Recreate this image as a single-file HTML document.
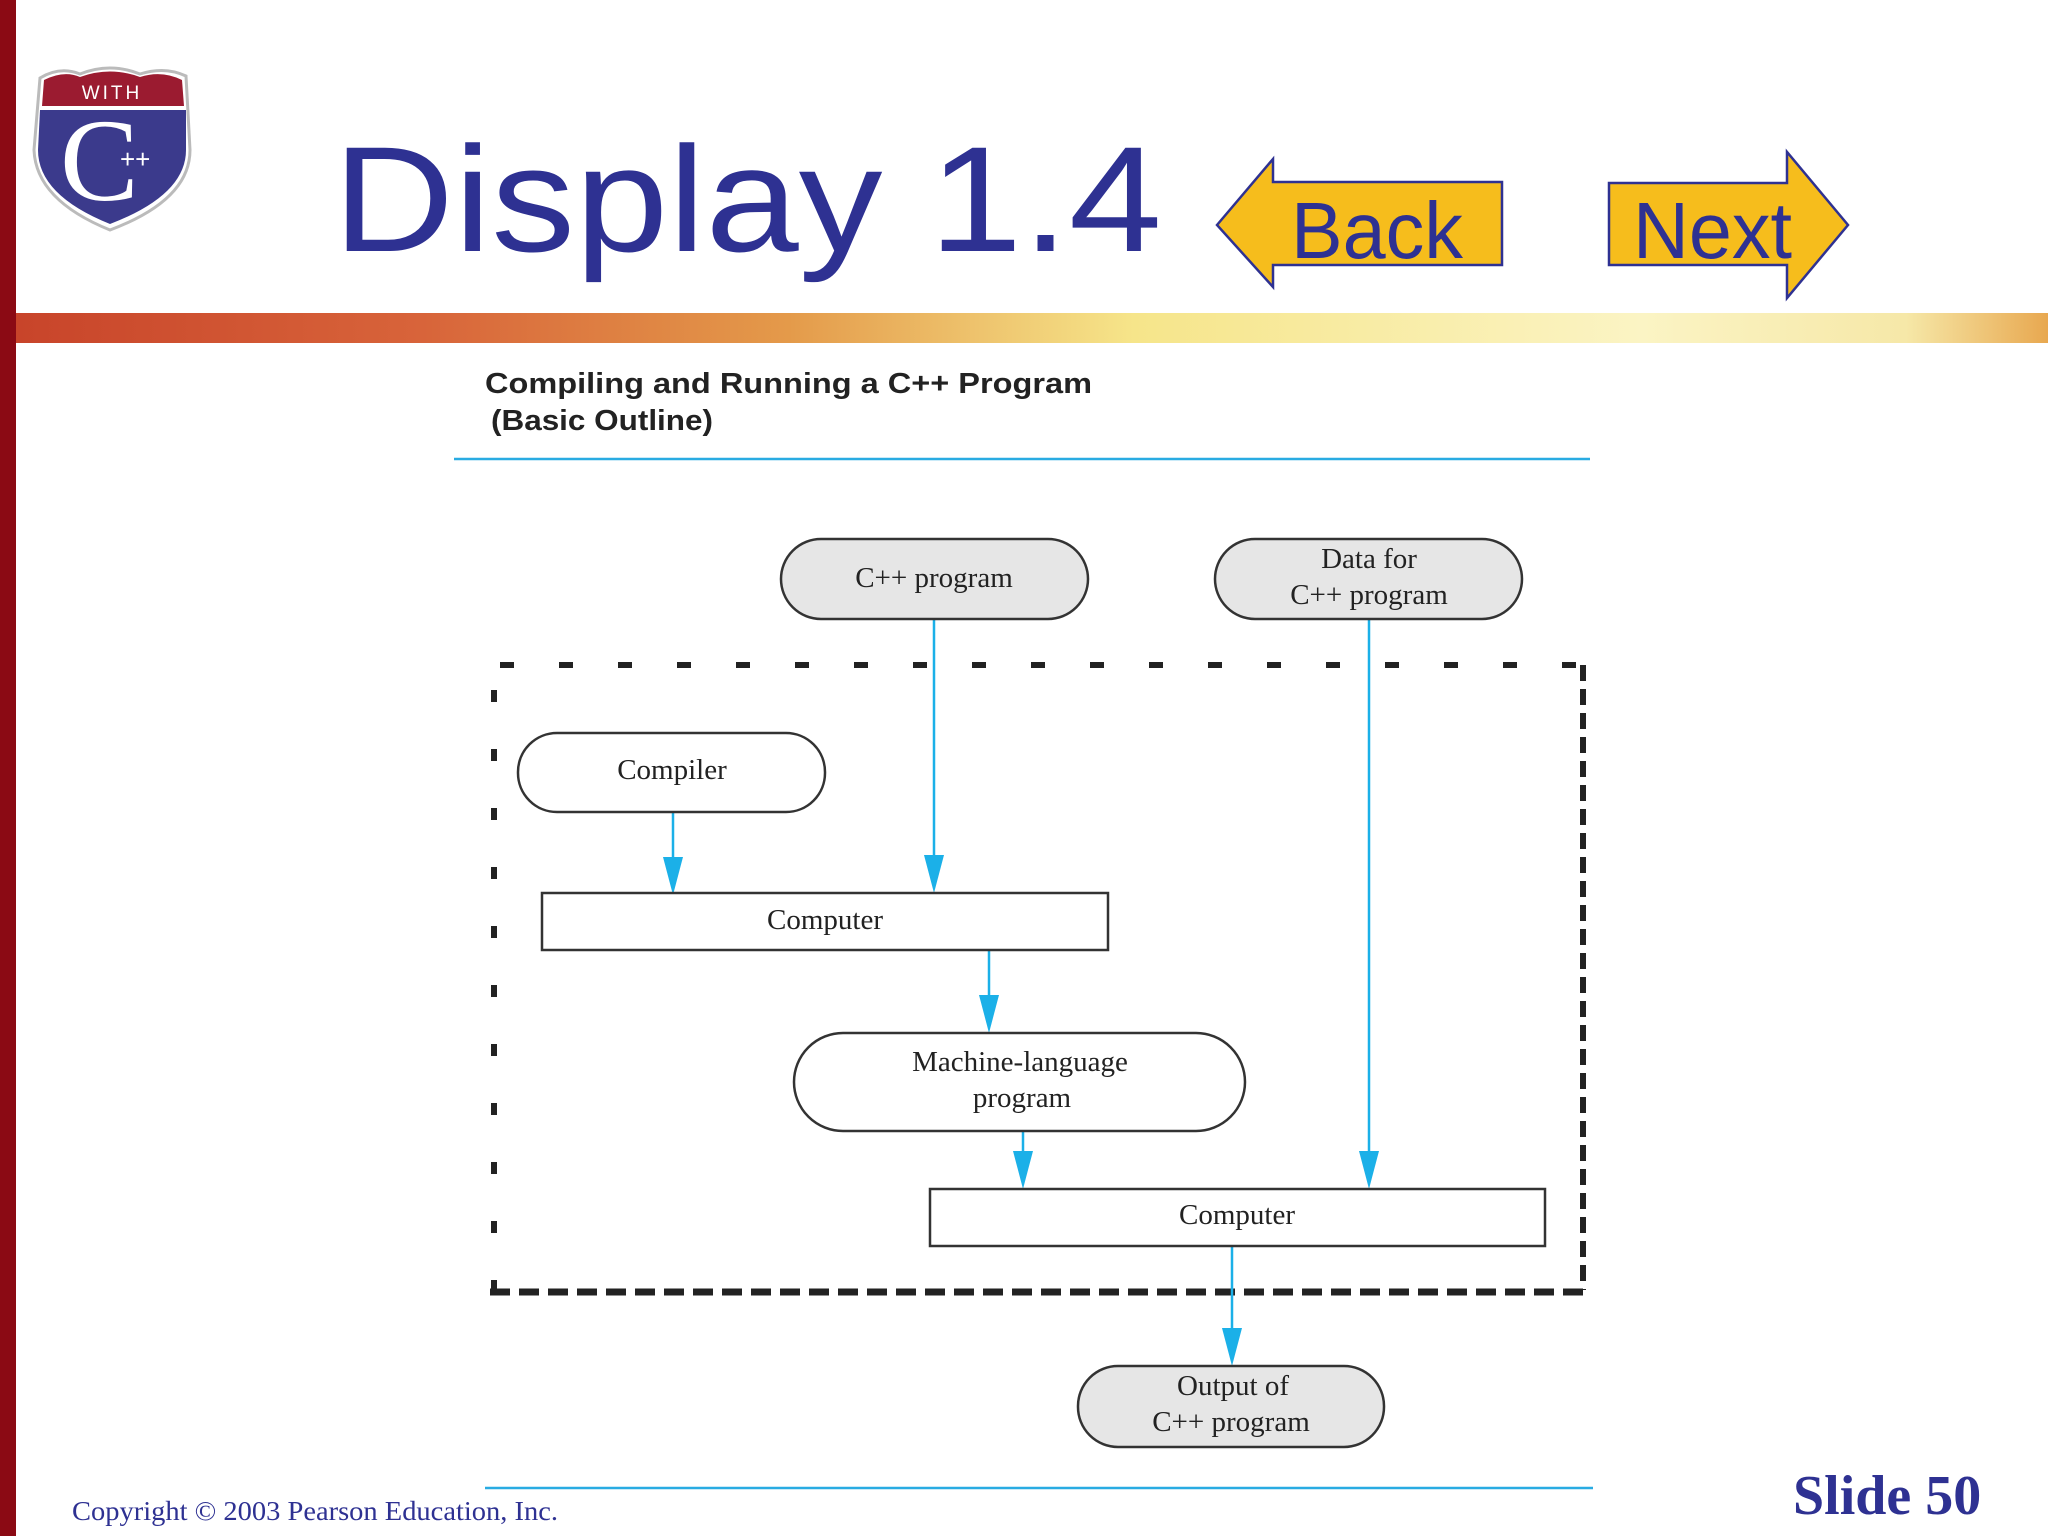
<!DOCTYPE html>
<html><head><meta charset="utf-8"><style>
html,body{margin:0;padding:0;background:#fff;}
body{width:2048px;height:1536px;position:relative;overflow:hidden;}
</style></head><body>
<svg width="2048" height="1536" viewBox="0 0 2048 1536" xmlns="http://www.w3.org/2000/svg" style="position:absolute;left:0;top:0">
<defs>
<linearGradient id="band" x1="0" x2="1" y1="0" y2="0">
<stop offset="0" stop-color="#c8442a"/>
<stop offset="0.2" stop-color="#d8643a"/>
<stop offset="0.38" stop-color="#e49a4a"/>
<stop offset="0.55" stop-color="#f6e58a"/>
<stop offset="0.8" stop-color="#fbf4c4"/>
<stop offset="0.93" stop-color="#f6e8a8"/>
<stop offset="1" stop-color="#e8a850"/>
</linearGradient>
</defs>
<rect x="0" y="0" width="16" height="1536" fill="#8b0a14"/>
<!-- logo -->
<g>
<path d="M40,78 Q60,66 80,74 Q110,62 140,74 Q165,66 186,76 L190,150 Q190,200 110,230 Q36,200 34,150 Z" fill="#fff" stroke="#bbb" stroke-width="3"/>
<path d="M44,80 Q64,70 80,77 Q110,66 140,77 Q162,70 182,80 L184,106 L42,106 Z" fill="#9b1b30"/>
<text x="112" y="99" font-family="Liberation Sans,sans-serif" font-size="19" fill="#fff" text-anchor="middle" letter-spacing="3">WITH</text>
<path d="M40,110 L186,110 L186,150 Q186,195 110,224 Q38,195 38,150 Z" fill="#3b3a8c"/>
<text x="60" y="200" font-family="Liberation Serif,serif" font-size="118" fill="#fff">C</text>
<text x="120" y="168" font-family="Liberation Sans,sans-serif" font-size="26" fill="#fff">++</text>
</g>
<text x="333" y="251" font-family="Liberation Sans,sans-serif" font-size="150" fill="#2e3192" textLength="829" lengthAdjust="spacingAndGlyphs">Display 1.4</text>
<!-- Back -->
<polygon points="1217,225 1273,159 1273,182 1502,182 1502,265 1273,265 1273,287" fill="#f6bd1c" stroke="#2e3192" stroke-width="2.5"/>
<text x="1291" y="258" font-family="Liberation Sans,sans-serif" font-size="80" fill="#2e3192" textLength="172" lengthAdjust="spacingAndGlyphs">Back</text>
<!-- Next -->
<polygon points="1609,183 1787,183 1787,152 1848,225 1787,298 1787,265 1609,265" fill="#f6bd1c" stroke="#2e3192" stroke-width="2.5"/>
<text x="1633" y="258" font-family="Liberation Sans,sans-serif" font-size="80" fill="#2e3192" textLength="159" lengthAdjust="spacingAndGlyphs">Next</text>
<rect x="16" y="313" width="2032" height="30" fill="url(#band)"/>
<text x="485" y="393" font-family="Liberation Sans,sans-serif" font-weight="bold" font-size="29" fill="#222" textLength="607" lengthAdjust="spacingAndGlyphs">Compiling and Running a C++ Program</text>
<text x="491" y="430" font-family="Liberation Sans,sans-serif" font-weight="bold" font-size="29" fill="#222" textLength="222" lengthAdjust="spacingAndGlyphs">(Basic Outline)</text>
<line x1="454" y1="459" x2="1590" y2="459" stroke="#29abe2" stroke-width="2.5"/>
<!-- dashed box -->
<line x1="500" y1="665" x2="1584" y2="665" stroke="#222" stroke-width="6" stroke-dasharray="14 45"/>
<line x1="494" y1="690" x2="494" y2="1290" stroke="#222" stroke-width="6" stroke-dasharray="12 47"/>
<line x1="1583" y1="665" x2="1583" y2="1290" stroke="#222" stroke-width="6" stroke-dasharray="16 8"/>
<line x1="490" y1="1292" x2="1586" y2="1292" stroke="#222" stroke-width="7" stroke-dasharray="20 9"/>
<!-- arrows -->
<g stroke="#1bb0e8" stroke-width="2.5" fill="none">
<line x1="934" y1="619" x2="934" y2="860"/>
<line x1="1369" y1="619" x2="1369" y2="1155"/>
<line x1="673" y1="812" x2="673" y2="860"/>
<line x1="989" y1="950" x2="989" y2="1000"/>
<line x1="1023" y1="1131" x2="1023" y2="1155"/>
<line x1="1232" y1="1246" x2="1232" y2="1333"/>
</g>
<g fill="#1bb0e8">
<polygon points="924,855 944,855 934,893"/>
<polygon points="1359,1151 1379,1151 1369,1189"/>
<polygon points="663,857 683,857 673,895"/>
<polygon points="979,995 999,995 989,1033"/>
<polygon points="1013,1151 1033,1151 1023,1189"/>
<polygon points="1222,1328 1242,1328 1232,1366"/>
</g>
<!-- nodes -->
<g stroke="#333" stroke-width="2.5">
<rect x="781" y="539" width="307" height="80" rx="40" fill="#e6e6e6"/>
<rect x="1215" y="539" width="307" height="80" rx="40" fill="#e6e6e6"/>
<rect x="518" y="733" width="307" height="79" rx="39" fill="#fff"/>
<rect x="542" y="893" width="566" height="57" fill="#fff"/>
<rect x="794" y="1033" width="451" height="98" rx="49" fill="#fff"/>
<rect x="930" y="1189" width="615" height="57" fill="#fff"/>
<rect x="1078" y="1366" width="306" height="81" rx="40" fill="#e6e6e6"/>
</g>
<g font-family="Liberation Serif,serif" font-size="29" fill="#222" text-anchor="middle">
<text x="934" y="587">C++ program</text>
<text x="1369" y="568">Data for</text>
<text x="1369" y="604">C++ program</text>
<text x="672" y="779">Compiler</text>
<text x="825" y="929">Computer</text>
<text x="1020" y="1071">Machine-language</text>
<text x="1022" y="1107">program</text>
<text x="1237" y="1224">Computer</text>
<text x="1233" y="1395">Output of</text>
<text x="1231" y="1431">C++ program</text>
</g>
<line x1="485" y1="1488" x2="1593" y2="1488" stroke="#29abe2" stroke-width="2.5"/>
<text x="72" y="1520" font-family="Liberation Serif,serif" font-size="27" fill="#2e3192" textLength="486" lengthAdjust="spacingAndGlyphs">Copyright © 2003 Pearson Education, Inc.</text>
<text x="1793" y="1514" font-family="Liberation Serif,serif" font-weight="bold" font-size="56" fill="#2e3192">Slide 50</text>
</svg>
</body></html>
